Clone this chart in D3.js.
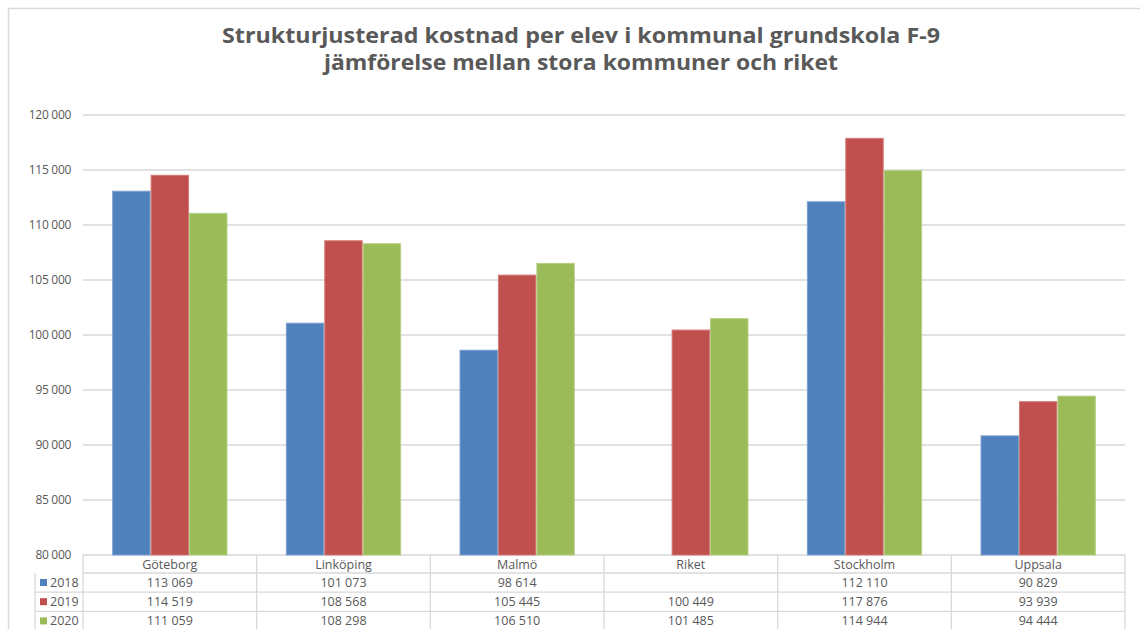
<!DOCTYPE html>
<html>
<head>
<meta charset="utf-8">
<script src="https://cdn.jsdelivr.net/npm/d3@7"></script>
<style>
  body { margin: 0; background: #fff; }
  svg { display: block; font-family: "Open Sans", sans-serif; }
</style>
</head>
<body>
<svg id="chart" width="1140" height="629"></svg>
<script>
var kommuner = ["Göteborg", "Linköping", "Malmö", "Riket", "Stockholm", "Uppsala"];
var years = ["2018", "2019", "2020"];
var v2018 = [113069, 101073, 98614, null, 112110, 90829];
var v2019 = [114519, 108568, 105445, 100449, 117876, 93939];
var v2020 = [111059, 108298, 106510, 101485, 114944, 94444];
var yTicks = [80000, 85000, 90000, 95000, 100000, 105000, 110000, 115000, 120000];
var titleLines = ["Strukturjusterad kostnad per elev i kommunal grundskola F-9",
                  "jämförelse mellan stora kommuner och riket"];

var series = [v2018, v2019, v2020];
var colors = ["#4f81bd", "#c0504d", "#9bbb59"];
var strokes = ["#7ba0d0", "#d47976", "#b6cf84"];

var svg = d3.select("svg#chart"),
    width = +svg.attr("width"),
    height = +svg.attr("height");

var locale = d3.formatLocale({decimal: ",", thousands: " ", grouping: [3], currency: ["", " kr"]});
var format = locale.format(",d");

var margin = {left: 83, right: 1125, top: 115, bottom: 555};
var rowH = 19.2;

// outer frame
svg.append("path")
    .attr("d", "M8.5," + height + "V8.5H" + width)
    .attr("fill", "none")
    .attr("stroke", "#d9d9d9")
    .attr("stroke-width", 1.5);

var x = d3.scaleBand()
    .domain(kommuner)
    .range([margin.left, margin.right]);

var x1 = d3.scaleBand()
    .domain(years)
    .range([0, x.bandwidth()])
    .paddingInner(0)
    .paddingOuter(0.76);

var y = d3.scaleLinear()
    .domain([80000, 120000])
    .range([margin.bottom, margin.top]);

// gridlines
svg.append("g")
    .selectAll("line")
    .data(yTicks)
    .enter().append("line")
      .attr("x1", margin.left)
      .attr("x2", margin.right)
      .attr("y1", function(d) { return y(d); })
      .attr("y2", function(d) { return y(d); })
      .attr("stroke", "#d9d9d9")
      .attr("stroke-width", 1.5);

// y axis labels
var yAxis = d3.axisLeft(y).tickValues(yTicks).tickFormat(format).tickSize(0).tickPadding(12);
var ya = svg.append("g")
    .attr("transform", "translate(" + margin.left + ",0)")
    .call(yAxis);
ya.select(".domain").remove();
ya.selectAll("text")
    .attr("fill", "#595959")
    .style("font-family", "'Open Sans', sans-serif")
    .style("font-size", "12px")
    .style("letter-spacing", "-0.3px");

// bars
var groups = svg.append("g")
  .selectAll("g")
  .data(kommuner)
  .enter().append("g")
    .attr("transform", function(d) { return "translate(" + x(d) + ",0)"; });

groups.selectAll("rect")
    .data(function(d, i) {
      return years.map(function(yr, j) { return {year: yr, value: series[j][i], j: j}; })
        .filter(function(e) { return e.value != null; });
    })
    .enter().append("rect")
      .attr("x", function(d) { return x1(d.year) + 0.5; })
      .attr("width", x1.bandwidth() - 1)
      .attr("y", function(d) { return y(d.value); })
      .attr("height", function(d) { return y(80000) - y(d.value); })
      .attr("fill", function(d) { return colors[d.j]; })
      .attr("stroke", function(d) { return strokes[d.j]; })
      .attr("stroke-width", 1);

// data table
var table = svg.append("g").attr("stroke", "#d9d9d9").attr("stroke-width", 1.3);
var legendLeft = 35;
var tb = margin.bottom;
// horizontal lines
[0, 1, 2, 3].forEach(function(r) {
  table.append("line")
    .attr("x1", r === 0 ? margin.left : legendLeft)
    .attr("x2", margin.right)
    .attr("y1", tb + 18 + r * rowH)
    .attr("y2", tb + 18 + r * rowH);
});
// vertical lines
x.domain().concat([null]).forEach(function(k) {
  var xx = k ? x(k) : margin.right;
  table.append("line")
    .attr("x1", xx).attr("x2", xx)
    .attr("y1", tb).attr("y2", height);
});
table.append("line")
  .attr("x1", legendLeft).attr("x2", legendLeft)
  .attr("y1", tb + 18).attr("y2", height);

var tf = svg.append("g")
    .attr("fill", "#595959")
    .style("font-size", "12.5px")
    .attr("text-anchor", "middle");

tf.selectAll("text.cat")
  .data(kommuner)
  .enter().append("text")
    .attr("class", "cat")
    .attr("x", function(d) { return x(d) + x.bandwidth() / 2; })
    .attr("y", tb + 13.5)
    .text(function(d) { return d; });

years.forEach(function(yr, j) {
  var ry = tb + 18 + j * rowH;
  tf.selectAll("text.v" + yr)
    .data(series[j])
    .enter().append("text")
      .attr("class", "v" + yr)
      .attr("x", function(d, i) { return x(kommuner[i]) + x.bandwidth() / 2; })
      .attr("y", ry + 13.8)
      .text(function(d) { return d == null ? "" : format(d); });
  svg.append("rect")
    .attr("x", 40).attr("y", ry + 6)
    .attr("width", 7).attr("height", 7)
    .attr("fill", colors[j]);
  svg.append("text")
    .attr("x", 50).attr("y", ry + 14)
    .attr("fill", "#595959")
    .style("font-size", "12.5px")
    .text(yr);
});

// title, one text per line, squeezed to the reference widths
var titleWidths = [718, 514];
svg.append("g")
  .selectAll("text")
  .data(titleLines)
  .enter().append("text")
    .attr("text-anchor", "middle")
    .attr("x", 581)
    .attr("y", function(d, i) { return 43 + i * 27; })
    .attr("fill", "#595959")
    .style("font-weight", "bold")
    .style("font-size", "21px")
    .attr("textLength", function(d, i) { return titleWidths[i]; })
    .attr("lengthAdjust", "spacingAndGlyphs")
    .text(function(d) { return d; });
</script>
</body>
</html>
